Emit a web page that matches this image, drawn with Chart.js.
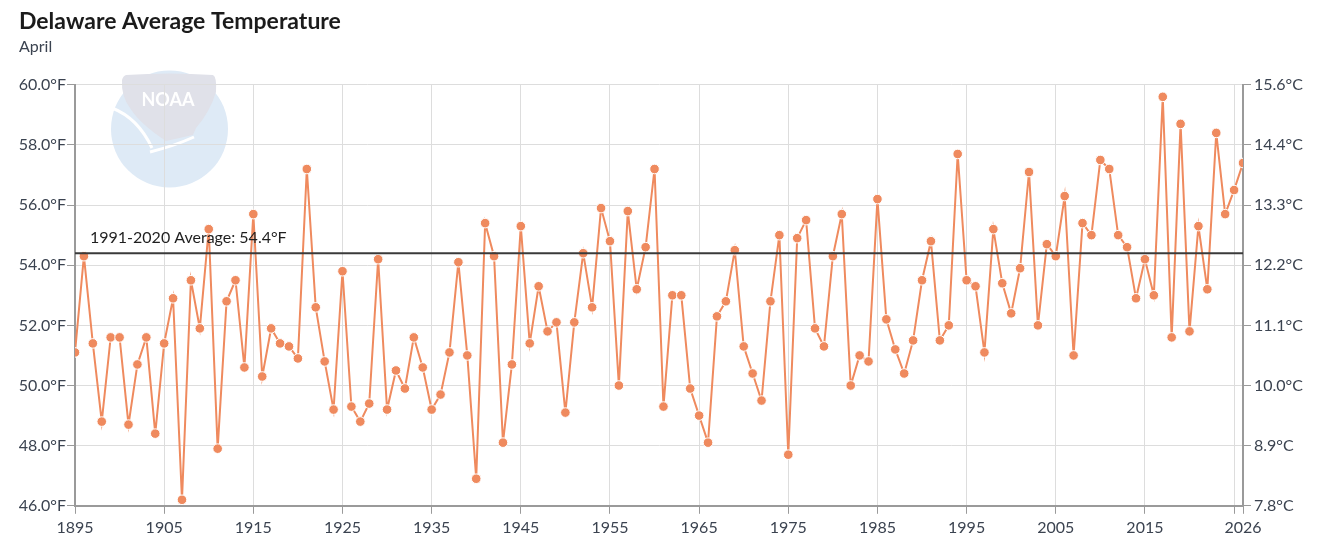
<!DOCTYPE html>
<html>
<head>
<meta charset="utf-8">
<script src="https://cdn.jsdelivr.net/npm/chart.js@4.4.1/dist/chart.umd.min.js"></script>
<style>
  html, body { margin: 0; padding: 0; background: #fff; }
  #wrap { width: 1320px; height: 556px; position: relative; }
</style>
</head>
<body>
<div id="wrap"><canvas id="myChart"></canvas></div>
<script>
const firstYear = 1895;
const temps = [
  51.1, 54.3, 51.4, 48.8, 51.6, 51.6, 48.7, 50.7, 51.6, 48.4,
  51.4, 52.9, 46.2, 53.5, 51.9, 55.2, 47.9, 52.8, 53.5, 50.6,
  55.7, 50.3, 51.9, 51.4, 51.3, 50.9, 57.2, 52.6, 50.8, 49.2,
  53.8, 49.3, 48.8, 49.4, 54.2, 49.2, 50.5, 49.9, 51.6, 50.6,
  49.2, 49.7, 51.1, 54.1, 51.0, 46.9, 55.4, 54.3, 48.1, 50.7,
  55.3, 51.4, 53.3, 51.8, 52.1, 49.1, 52.1, 54.4, 52.6, 55.9,
  54.8, 50.0, 55.8, 53.2, 54.6, 57.2, 49.3, 53.0, 53.0, 49.9,
  49.0, 48.1, 52.3, 52.8, 54.5, 51.3, 50.4, 49.5, 52.8, 55.0,
  47.7, 54.9, 55.5, 51.9, 51.3, 54.3, 55.7, 50.0, 51.0, 50.8,
  56.2, 52.2, 51.2, 50.4, 51.5, 53.5, 54.8, 51.5, 52.0, 57.7,
  53.5, 53.3, 51.1, 55.2, 53.4, 52.4, 53.9, 57.1, 52.0, 54.7,
  54.3, 56.3, 51.0, 55.4, 55.0, 57.5, 57.2, 55.0, 54.6, 52.9,
  54.2, 53.0, 59.6, 51.6, 58.7, 51.8, 55.3, 53.2, 58.4, 55.7,
  56.5, 57.4
];
const years = temps.map((_, i) => firstYear + i);
const lastYear = years[years.length - 1];

const averageValue = 54.4;
const averageLabel = '1991-2020 Average: 54.4°F';

const xTickYears = [1895, 1905, 1915, 1925, 1935, 1945, 1955, 1965, 1975, 1985, 1995, 2005, 2015, 2025, 2026];
const yTicksF = [46, 48, 50, 52, 54, 56, 58, 60];

const FONT = 'Lato, "Open Sans", sans-serif';
const tickColor = '#3b4350';

// faded NOAA mark behind the plot
const noaaLogo = {
  id: 'noaaLogo',
  beforeDraw(chart) {
    const ctx = chart.ctx;
    const cx = 169.5, cy = 129, r = 58.5;
    ctx.save();
    ctx.beginPath();
    ctx.arc(cx, cy, r, 0, Math.PI * 2);
    ctx.fillStyle = '#deeaf6';
    ctx.fill();

    // grey upper shape
    ctx.beginPath();
    ctx.moveTo(126, 75);
    ctx.quadraticCurveTo(169, 72, 213, 75);
    ctx.quadraticCurveTo(217, 77, 216, 92);
    ctx.quadraticCurveTo(210, 112, 196, 128);
    ctx.lineTo(193, 135);
    ctx.lineTo(166, 141);
    ctx.quadraticCurveTo(140, 124, 130, 108);
    ctx.quadraticCurveTo(121, 96, 122, 80);
    ctx.quadraticCurveTo(123, 76, 126, 75);
    ctx.closePath();
    ctx.fillStyle = '#e0e1e9';
    ctx.fill();

    // white wing on the left
    ctx.beginPath();
    ctx.moveTo(112, 108);
    ctx.quadraticCurveTo(138, 118, 152, 148);
    ctx.strokeStyle = '#ffffff';
    ctx.lineWidth = 3;
    ctx.stroke();

    // white tail swoosh
    ctx.beginPath();
    ctx.moveTo(150, 152);
    ctx.quadraticCurveTo(174, 146, 194, 137);
    ctx.lineWidth = 3;
    ctx.stroke();

    ctx.fillStyle = '#ffffff';
    ctx.font = 'bold 18px ' + FONT;
    ctx.textAlign = 'center';
    ctx.textBaseline = 'middle';
    ctx.fillText('NOAA', 168, 100);
    ctx.restore();
  }
};

const averageText = {
  id: 'averageText',
  afterDatasetsDraw(chart) {
    const {ctx, chartArea, scales} = chart;
    const y = scales.y.getPixelForValue(averageValue);
    ctx.save();
    ctx.font = '16px ' + FONT;
    ctx.fillStyle = '#1f1f1f';
    ctx.textAlign = 'left';
    ctx.textBaseline = 'middle';
    ctx.fillText(averageLabel, chartArea.left + 15, y - 15);
    ctx.restore();
  }
};

const tempPoints = years.map((yr, i) => ({x: yr, y: temps[i]}));
const avgPoints = [{x: firstYear, y: averageValue}, {x: lastYear, y: averageValue}];

const config = {
  type: 'line',
  data: {
    datasets: [
      {
        label: '1991-2020 Average',
        data: avgPoints,
        borderColor: '#3a3a3a',
        borderWidth: 2,
        pointRadius: 0,
        order: 0
      },
      {
        label: 'Average Temperature',
        data: tempPoints,
        borderColor: '#ef8a5e',
        borderWidth: 2,
        backgroundColor: '#ef8a5e',
        pointBackgroundColor: '#ef8a5e',
        pointBorderColor: '#ffffff',
        pointBorderWidth: 1,
        pointRadius: 4.8,
        tension: 0,
        order: 1
      }
    ]
  },
  options: {
    responsive: true,
    maintainAspectRatio: false,
    animation: false,
    layout: { padding: { left: 19, right: 0, top: 8, bottom: 15 } },
    plugins: {
      legend: { display: false },
      title: {
        display: true,
        text: 'Delaware Average Temperature',
        align: 'start',
        color: '#1b1b1b',
        font: { family: FONT, size: 23, weight: 'bold' },
        padding: { top: 0, bottom: 2 }
      },
      subtitle: {
        display: true,
        text: 'April',
        align: 'start',
        color: '#3b4350',
        font: { family: FONT, size: 16 },
        padding: { top: 0, bottom: 28 }
      }
    },
    scales: {
      x: {
        type: 'linear',
        min: firstYear,
        max: lastYear,
        afterBuildTicks(axis) {
          axis.ticks = xTickYears.map(v => ({value: v}));
        },
        ticks: {
          autoSkip: false,
          maxRotation: 0,
          color: tickColor,
          font: { family: FONT, size: 16 },
          padding: 4,
          callback: v => (v === 2025 ? '' : String(v))
        },
        grid: { color: '#dddddd', tickColor: '#9a9a9a', tickLength: 8 },
        border: { color: '#9a9a9a', width: 2 }
      },
      y: {
        position: 'left',
        min: yTicksF[0],
        max: yTicksF[yTicksF.length - 1],
        afterBuildTicks(axis) {
          axis.ticks = yTicksF.map(v => ({value: v}));
        },
        afterFit(axis) { axis.width = 56; },
        ticks: {
          color: tickColor,
          font: { family: FONT, size: 16 },
          padding: 1,
          callback: v => v.toFixed(1) + '°F'
        },
        grid: { color: '#dddddd', tickColor: '#9a9a9a', tickLength: 8 },
        border: { color: '#9a9a9a', width: 2 }
      },
      y2: {
        position: 'right',
        min: yTicksF[0],
        max: yTicksF[yTicksF.length - 1],
        afterBuildTicks(axis) {
          axis.ticks = yTicksF.map(v => ({value: v}));
        },
        afterFit(axis) { axis.width = 77; },
        ticks: {
          color: tickColor,
          font: { family: FONT, size: 16 },
          padding: 3,
          callback: v => ((v - 32) * 5 / 9).toFixed(1) + '°C'
        },
        grid: { drawOnChartArea: false, tickColor: '#9a9a9a', tickLength: 8 },
        border: { color: '#9a9a9a', width: 2 }
      }
    }
  },
  plugins: [noaaLogo, averageText]
};

const myChart = new Chart(document.getElementById('myChart'), config);
</script>
</body>
</html>
